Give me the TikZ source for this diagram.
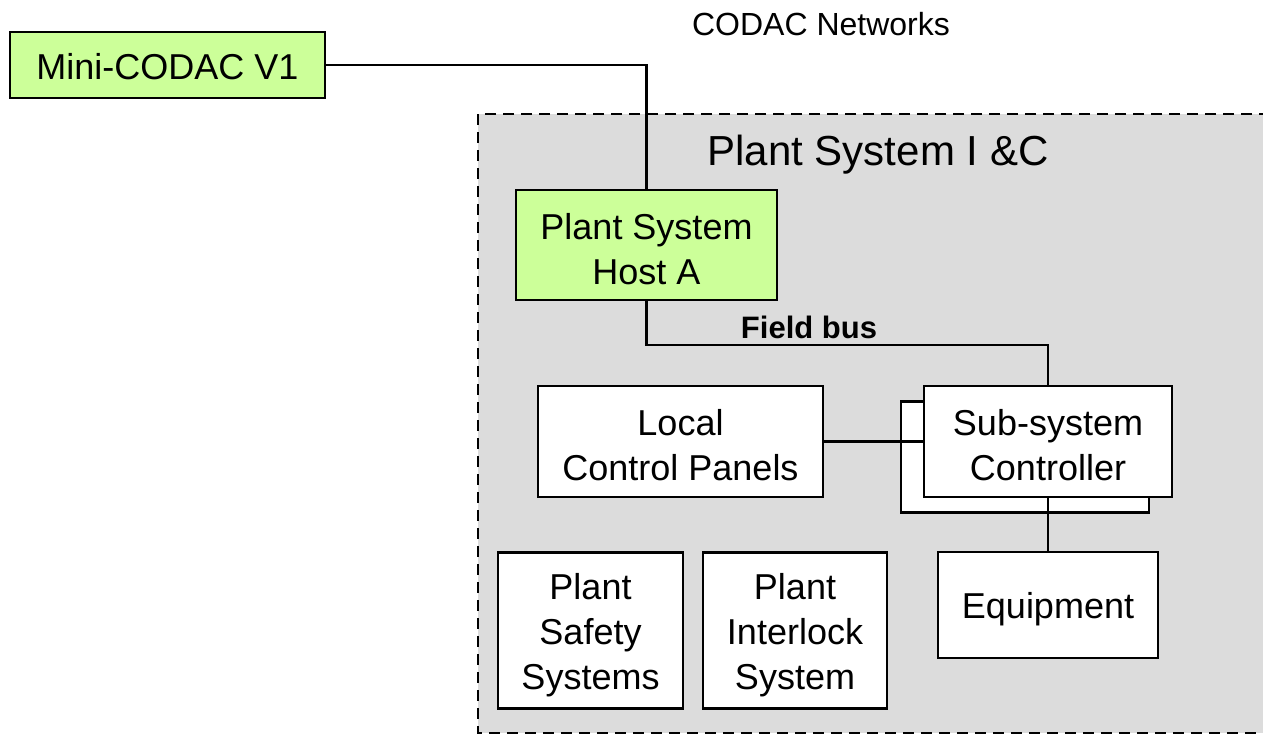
\documentclass[tikz,border=0pt]{standalone}
\usepackage{fontspec}
\setmainfont{Liberation Sans}
\definecolor{bggray}{HTML}{DCDCDC}
\definecolor{lgreen}{HTML}{CCFF99}
\begin{document}
\begin{tikzpicture}[x=1pt,y=-1pt,
  box/.style={draw=black,line width=2.2pt,fill=white,inner sep=0pt},
  gbox/.style={box,fill=lgreen},
  txt/.style={align=center,font=\fontsize{36}{45}\selectfont,yshift=-4pt},
  conn/.style={draw=black,line width=2.2pt}]
\useasboundingbox (0,0) rectangle (1263,734);
\clip (0,0) rectangle (1263,734);
\fill[white] (0,0) rectangle (1263,734);
\draw[fill=bggray,line width=2.2pt,dash pattern=on 11pt off 7pt] (478,114) rectangle (1290,733);
\node[font=\fontsize{42}{50}\selectfont] (title) at (878,155) {Plant System I \&C};
\node[font=\fontsize{32}{38}\selectfont] (codac) at (821,24) {CODAC Networks};
\node[font=\bfseries\fontsize{31}{38}\selectfont] (fbus) at (809,327) {Field bus};
\node[gbox,minimum width=315pt,minimum height=66pt,label={[txt,yshift=2pt]center:Mini-CODAC V1}] (mini) at (167.5,65) {};
\node[gbox,minimum width=261pt,minimum height=110pt,label={[txt]center:Plant System\\Host A}] (host) at (646.5,245) {};
\node[box,minimum width=285pt,minimum height=111pt,label={[txt]center:Local\\Control Panels}] (lcp) at (680.5,441.5) {};
\node[box,minimum width=248pt,minimum height=111pt] (sscback) at (1025,457) {};
\node[box,minimum width=220pt,minimum height=106pt,label={[txt]center:Equipment}] (equip) at (1048,605) {};
\node[box,minimum width=185pt,minimum height=156pt,label={[txt,yshift=-1pt]center:Plant\\Safety\\Systems}] (pss) at (590.5,630.5) {};
\node[box,minimum width=184pt,minimum height=156pt,label={[txt,yshift=-1pt]center:Plant\\Interlock\\System}] (pis) at (795,630.5) {};
\path (1048,441.5) coordinate (sscpos);
\draw[conn] (lcp.east) -- (924,441.5) coordinate (lcpend);
\node[box,minimum width=248pt,minimum height=111pt,label={[txt]center:Sub-system\\Controller}] (ssc) at (sscpos) {};
\draw[conn] (mini.east) -| (host.north);
\draw[conn] (host.south) -- ++(0,44) coordinate (fbcorner) -| (ssc.north);
\draw[conn] (ssc.south) -- (equip.north);
\end{tikzpicture}
\end{document}
